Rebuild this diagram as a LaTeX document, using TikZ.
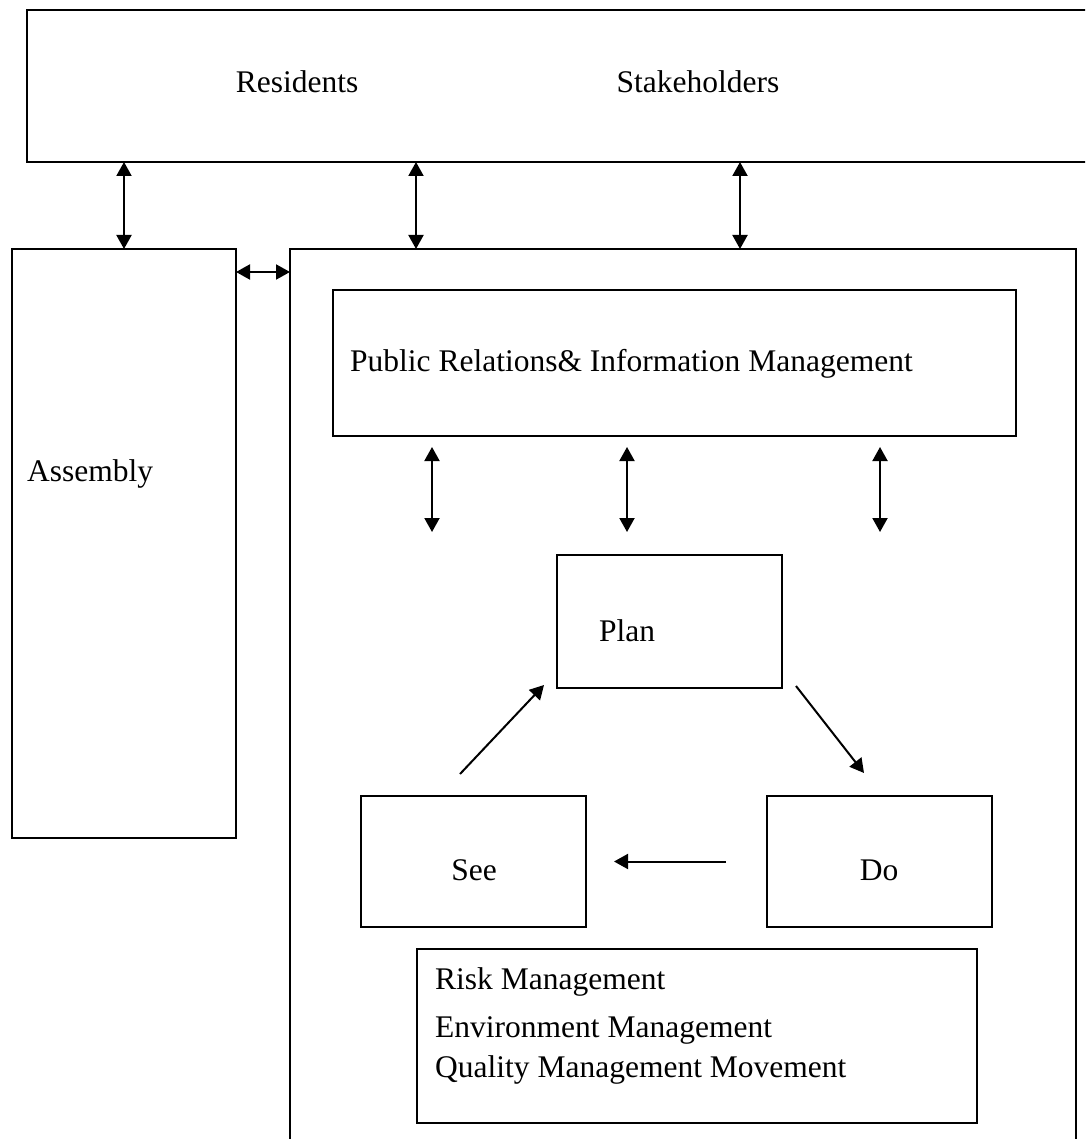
\documentclass[tikz,border=0pt]{standalone}
\usepackage{fontspec}
\setmainfont{Liberation Serif}
\usetikzlibrary{arrows.meta, positioning}

\tikzset{
    >={Triangle[length=14pt,width=15pt]},
    box/.style={draw, line width=2pt, anchor=north west, inner sep=0pt, outer sep=0pt},
    label/.style={font=\fontsize{31.5}{38}\selectfont, inner sep=0pt},
    link/.style={<->, line width=2pt},
    flow/.style={->, line width=2pt}
}

\begin{document}
\begin{tikzpicture}[x=1pt, y=-1pt]
    \useasboundingbox (0,0) rectangle (1085,1139);
    \clip (0,0) rectangle (1085,1139);

    % boxes
    \node[box, minimum width=1100pt, minimum height=152pt] (top) at (27,10) {};
    \node[box, minimum width=224pt, minimum height=589pt] (assembly) at (12,249) {};
    \node[box, minimum width=786pt, minimum height=1000pt] (mainbox) at (290,249) {};
    \node[box, minimum width=683pt, minimum height=146pt] (pr) at (333,290) {};
    \node[box, minimum width=225pt, minimum height=133pt] (plan) at (557,555) {};
    \node[box, minimum width=225pt, minimum height=131pt] (see) at (361,796) {};
    \node[box, minimum width=225pt, minimum height=131pt] (do) at (767,796) {};
    \node[box, minimum width=560pt, minimum height=174pt] (risk) at (417,949) {};

    % labels
    \node[label] (residents) at (297,82) {Residents};
    \node[label] (stakeholders) at (698,82) {Stakeholders};
    \node[label, anchor=west] (assemblytext) at (27,474) {Assembly};
    \node[label, anchor=west] (prtext) at (350,364) {Public Relations\& Information Management};
    \node[label] (plantext) at (627,631) {Plan};
    \node[label] (seetext) at (474,870) {See};
    \node[label] (dotext) at (879,870) {Do};
    \node[label, anchor=west] (risk1) at (435,982) {Risk Management};
    \node[label, anchor=west] (risk2) at (435,1030) {Environment Management};
    \node[label, anchor=west] (risk3) at (435,1070) {Quality Management Movement};

    % arrows to the top box
    \draw[link] (top.south -| assembly.north) -- (assembly.north);
    \foreach \x in {416,740}
        \draw[link] (top.south -| \x,0) -- (mainbox.north -| \x,0);
    \coordinate (side) at (0,272);
    \draw[link] (assembly.east |- side) -- (mainbox.west |- side);

    % arrows below public relations
    \foreach \x in {432,627,880}
        \draw[link, shorten <=11pt, shorten >=23pt] (pr.south -| \x,0) -- (plan.north -| \x,0);

    % cycle
    \draw[flow] ([xshift=14pt,yshift=2pt]plan.south east) -- ([xshift=-15.5pt,yshift=23pt]do.north);
    \draw[flow] ([xshift=-41pt]do.west) -- ([xshift=28pt]see.east);
    \draw[flow] ([xshift=-13.5pt,yshift=22pt]see.north) -- ([xshift=-13pt,yshift=3pt]plan.south west);
\end{tikzpicture}
\end{document}
